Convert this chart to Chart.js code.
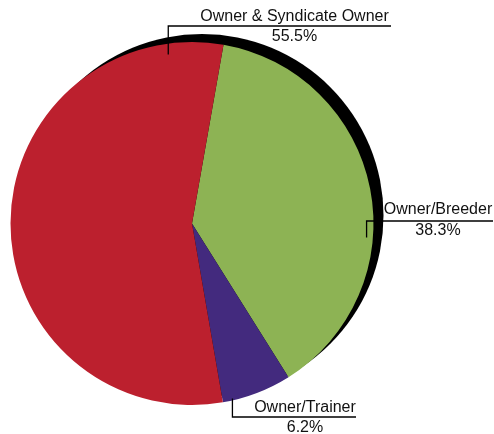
<!DOCTYPE html>
<html>
<head>
<meta charset="utf-8">
<script src="https://cdn.jsdelivr.net/npm/chart.js@4/dist/chart.umd.min.js"></script>
<style>
html,body{margin:0;padding:0;background:#fff;}
#wrap{width:494px;height:434px;position:relative;}
</style>
</head>
<body>
<div id="wrap"><canvas id="c" width="494" height="434"></canvas></div>
<script>
const categories = ['Owner/Breeder', 'Owner/Trainer', 'Owner & Syndicate Owner'];
const shares = [38.3, 6.2, 55.5];
const sliceColors = ['#8DB354', '#432A7E', '#BC202E'];

const shadowPlugin = {
  id: 'shadowDisc',
  beforeDatasetsDraw(chart) {
    const a = chart.getDatasetMeta(0).data[0];
    if (!a) return;
    const ctx = chart.ctx;
    ctx.save();
    ctx.fillStyle = '#000';
    ctx.beginPath();
    ctx.arc(a.x + 10, a.y - 8, a.outerRadius, 0, Math.PI * 2);
    ctx.fill();
    ctx.restore();
  }
};

const labelPlugin = {
  id: 'leaderLabels',
  afterDatasetsDraw(chart, args, opts) {
    const a = chart.getDatasetMeta(0).data[0];
    if (!a) return;
    const ctx = chart.ctx;
    const cx = a.x, cy = a.y, r = a.outerRadius;
    ctx.save();
    ctx.strokeStyle = '#000';
    ctx.lineWidth = 1.3;
    ctx.fillStyle = '#111';
    ctx.font = '16px "Liberation Sans", Arial, sans-serif';
    ctx.textAlign = 'center';
    ctx.textBaseline = 'alphabetic';
    opts.items.forEach(it => {
      const ang = it.angle * Math.PI / 180;
      const ax = cx + Math.sin(ang) * r * it.rf;
      const ay = cy - Math.cos(ang) * r * it.rf;
      ctx.beginPath();
      ctx.moveTo(ax, ay);
      ctx.lineTo(ax, it.lineY);
      ctx.lineTo(it.x2, it.lineY);
      ctx.stroke();
      ctx.fillText(categories[it.idx], it.textX, it.nameY);
      ctx.fillText(shares[it.idx].toFixed(1) + '%', it.textX, it.pctY);
    });
    ctx.restore();
  }
};

new Chart(document.getElementById('c'), {
  type: 'pie',
  data: {
    labels: categories,
    datasets: [{
      data: shares,
      backgroundColor: sliceColors,
      borderWidth: 0
    }]
  },
  options: {
    responsive: false,
    animation: false,
    rotation: 10,
    layout: { padding: { left: 10.5, right: 120.5, top: 42, bottom: 29 } },
    plugins: {
      legend: { display: false },
      tooltip: { enabled: false },
      leaderLabels: {
        items: [
          { idx: 2, angle: -8, rf: 0.94, lineY: 26, x2: 391, textX: 294.5, nameY: 21, pctY: 41 },
          { idx: 0, angle: 94.6, rf: 0.965, lineY: 221, x2: 493, textX: 438, nameY: 214, pctY: 235 },
          { idx: 1, angle: 167, rf: 0.99, lineY: 417, x2: 356, textX: 305, nameY: 412, pctY: 432 }
        ]
      }
    }
  },
  plugins: [shadowPlugin, labelPlugin]
});
</script>
</body>
</html>
